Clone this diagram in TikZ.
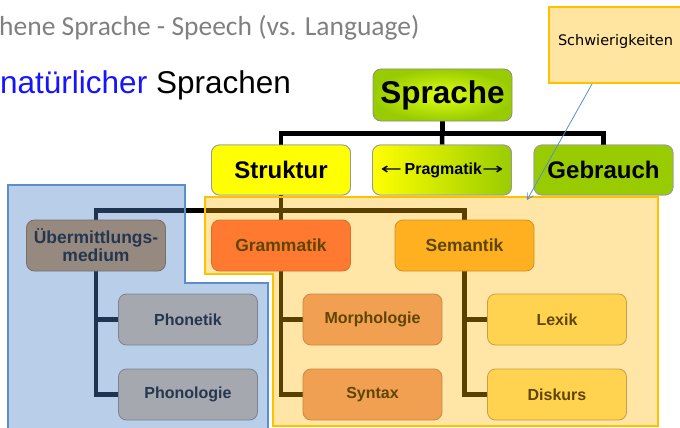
\documentclass[tikz,border=0pt]{standalone}
\usepackage{fontspec}
\usepackage{graphicx}
\setmainfont{Liberation Sans}
\newfontfamily\carlito{Carlito}
\newfontfamily\dejavu{DejaVu Sans}
\usetikzlibrary{calc,arrows.meta}
\definecolor{titlegray}{RGB}{128,128,128}
\definecolor{natblue}{RGB}{20,20,255}
\definecolor{gGreen}{RGB}{153,204,0}
\definecolor{gYellow}{RGB}{225,255,20}
\definecolor{sYellow}{RGB}{255,255,0}
\definecolor{uebFill}{RGB}{150,138,128}
\definecolor{uebDraw}{RGB}{118,110,104}
\definecolor{phonFill}{RGB}{165,168,175}
\definecolor{phonDraw}{RGB}{125,130,140}
\definecolor{gramFill}{RGB}{255,122,48}
\definecolor{gramDraw}{RGB}{210,112,45}
\definecolor{semFill}{RGB}{255,176,32}
\definecolor{semDraw}{RGB}{205,145,35}
\definecolor{morFill}{RGB}{240,160,80}
\definecolor{morDraw}{RGB}{200,136,74}
\definecolor{lexFill}{RGB}{255,210,80}
\definecolor{lexDraw}{RGB}{200,160,64}
\definecolor{blueText}{RGB}{37,54,79}
\definecolor{oraText}{RGB}{94,69,0}
\definecolor{blueOver}{RGB}{78,132,200}
\definecolor{blueEdge}{RGB}{90,142,205}
\definecolor{oraOver}{RGB}{255,181,0}
\definecolor{oraEdge}{RGB}{255,192,0}
\definecolor{noteFill}{RGB}{255,229,160}
\newcommand{\myarrow}[1]{{\dejavu\mdseries\fontsize{16}{16}\selectfont\scalebox{1.6}[1]{#1}}}
\tikzset{
  box/.style={rounded corners=8pt, line width=0.8pt, minimum width=139pt, minimum height=51pt, align=center, inner sep=0pt, font=\bfseries},
  top/.style={box, draw=black!40, minimum height=50pt, font=\fontsize{24}{26}\selectfont\bfseries},
  mid/.style={box, font=\fontsize{17.5}{20}\selectfont\bfseries},
  low/.style={box, font=\fontsize{16}{18}\selectfont\bfseries},
  conn/.style={line width=4.5pt, black, line join=miter},
}
\begin{document}
\begin{tikzpicture}[x=1pt,y=-1pt]
\useasboundingbox (0,0) rectangle (680,428);
\clip (0,0) rectangle (680,428);
% title texts
\node[anchor=base west, inner sep=0pt, text=titlegray, font=\carlito\fontsize{27.5}{30}\selectfont] (title) at (-1,36) {hene Sprache - Speech (vs. Language)};
\node[anchor=base west, inner sep=0pt, font=\fontsize{31.5}{33}\selectfont] (sub) at (0,93) {\textcolor{natblue}{natürlicher} Sprachen};
% boxes (positions only for connectors first)
\node[box, minimum height=52pt] (spr) at (442.5,95) {};
\node[top] (str) at (281,170) {};
\node[top] (prag) at (442,170) {};
\node[top] (geb) at (603.5,170) {};
\node[mid] (ueb) at (96,245.5) {};
\node[mid] (gram) at (281,245.5) {};
\node[mid] (sem) at (464.5,245.5) {};
\node[low] (phot) at (188,319.5) {};
\node[low] (phol) at (188,394.5) {};
\node[low] (mor) at (372.5,319.5) {};
\node[low] (syn) at (372.5,394.5) {};
\node[low] (lex) at (557,319.5) {};
\node[low] (dis) at (557,394.5) {};
% connectors
\draw[conn] (spr.south) |- ($(str.north)+(0,-11)$) -- (str.north);
\draw[conn] (spr.south) |- ($(geb.north)+(0,-11)$) -- (geb.north);
\draw[conn] (spr.south) -- (prag.north);
\draw[conn] (str.south) |- ($(ueb.north)+(0,-9)$) -- (ueb.north);
\draw[conn] (str.south) |- ($(sem.north)+(0,-9)$) -- (sem.north);
\draw[conn] (str.south) -- (gram.north);
\draw[conn] (ueb.south) |- (phot.west);
\draw[conn] (ueb.south) |- (phol.west);
\draw[conn] (gram.south) |- (mor.west);
\draw[conn] (gram.south) |- (syn.west);
\draw[conn] (sem.south) |- (lex.west);
\draw[conn] (sem.south) |- (dis.west);
% regions (translucent overlays)
\fill[blueOver, fill opacity=0.4] (8,185) -- (185,185) -- (185,283) -- (268,283) -- (268,440) -- (8,440) -- cycle;
\draw[blueEdge, line width=1.5pt] (8,440) -- (8,185) -- (185,185) -- (185,283) -- (268,283) -- (268,440);
\fill[oraOver, fill opacity=0.35] (205,197) -- (658,197) -- (658,426) -- (273,426) -- (273,274) -- (205,274) -- cycle;
\draw[oraEdge, line width=2pt] (205,197) -- (658,197) -- (658,426) -- (273,426) -- (273,274) -- (205,274) -- cycle;
% visible boxes
\node[box, minimum height=52pt, draw=black!45, inner color=gYellow, outer color=gGreen, font=\fontsize{31.5}{33}\selectfont\bfseries] at (spr) {Sprache};
\node[top, fill=sYellow] at (str) {Struktur};
\node[top, left color=sYellow, right color=gGreen, font=\fontsize{16}{18}\selectfont\bfseries] at (prag) {\myarrow{←}\,Pragmatik\myarrow{→}};
\node[top, fill=gGreen] at (geb) {Gebrauch};
\node[mid, fill=uebFill, draw=uebDraw, text=blueText] at (ueb) {Übermittlungs-\\[-2pt]medium};
\node[mid, fill=gramFill, draw=gramDraw, text=oraText] at (gram) {Grammatik};
\node[mid, fill=semFill, draw=semDraw, text=oraText] at (sem) {Semantik};
\node[low, fill=phonFill, draw=phonDraw, text=blueText] at (phot) {Phonetik};
\node[low, fill=phonFill, draw=phonDraw, text=blueText] at (phol) {Phonologie};
\node[low, fill=morFill, draw=morDraw, text=oraText] at (mor) {Morphologie};
\node[low, fill=morFill, draw=morDraw, text=oraText] at (syn) {Syntax};
\node[low, fill=lexFill, draw=lexDraw, text=oraText] at (lex) {Lexik};
\node[low, fill=lexFill, draw=lexDraw, text=oraText] at (dis) {Diskurs};
% note
\node[draw=oraEdge, line width=2pt, fill=noteFill, minimum width=134pt, minimum height=76pt, inner sep=0pt] (note) at (616,45) {};
\node[font=\dejavu\fontsize{14.5}{16}\selectfont, inner sep=0pt] (notetxt) at (615.5,41) {Schwierigkeiten};
\coordinate (target) at (527,200);
\draw[blueEdge, line width=0.8pt, -{Straight Barb[length=6pt,width=7pt]}] ($(note.south)+(-24,0)$) -- (target);
\end{tikzpicture}
\end{document}
